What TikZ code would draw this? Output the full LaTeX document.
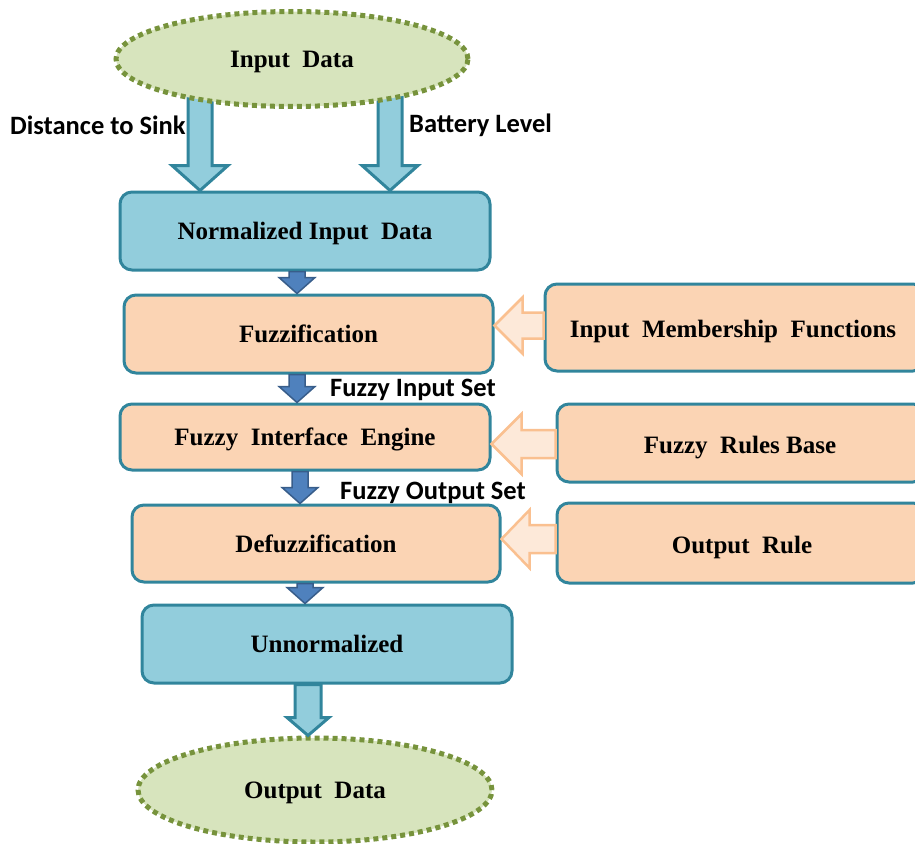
\documentclass[tikz,border=0pt]{standalone}
\usepackage{fontspec}
\setmainfont{Liberation Serif}
\newfontfamily\lblfont{Carlito}
\usetikzlibrary{shapes.geometric,calc}
\definecolor{lblue}{HTML}{92CDDC}
\definecolor{teal}{HTML}{31859C}
\definecolor{peach}{HTML}{FBD4B4}
\definecolor{ogreen}{HTML}{77933C}
\definecolor{gfill}{HTML}{D7E4BD}
\definecolor{dblue}{HTML}{4F81BD}
\definecolor{dblueb}{HTML}{385D8A}
\definecolor{pfill}{HTML}{FDE9D9}
\definecolor{pline}{HTML}{FAC090}
\newcommand\fatdown[6]{\draw[#1] let \p1=(#2), \p2=(#3) in
  (\x1-#4,\y1) -- (\x1-#4,\y2+#6) -- (\x1-#5,\y2+#6) -- (\x1,\y2) --
  (\x1+#5,\y2+#6) -- (\x1+#4,\y2+#6) -- (\x1+#4,\y1) -- cycle;}
\newcommand\fatleft[6]{\draw[#1] let \p1=(#2), \p2=(#3) in
  (\x1,\y1-#4) -- (\x2+#6,\y1-#4) -- (\x2+#6,\y1-#5) -- (\x2,\y1) --
  (\x2+#6,\y1+#5) -- (\x2+#6,\y1+#4) -- (\x1,\y1+#4) -- cycle;}
\tikzset{
  base/.style={rectangle, rounded corners=12pt, draw=teal, line width=3pt,
    font=\fontsize{25}{29}\selectfont\bfseries, text=black, inner sep=0pt, text depth=0pt},
  bluebox/.style={base, fill=lblue},
  peachbox/.style={base, fill=peach},
  dataell/.style={ellipse, draw=ogreen, fill=gfill, line width=5pt,
    dash pattern=on 5pt off 4pt, font=\fontsize{25}{29}\selectfont\bfseries,
    inner sep=0pt, text depth=0pt},
  lbl/.style={font=\lblfont\fontsize{26.5}{30}\selectfont\bfseries, text=black, inner sep=0pt},
  fatblue/.style={fill=lblue, draw=teal, line width=3pt, line join=miter},
  smallblue/.style={fill=dblue, draw=dblueb, line width=1.5pt, line join=miter},
  hollow/.style={fill=pfill, draw=pline, line width=2.5pt, line join=miter}
}
\begin{document}
\begin{tikzpicture}[x=1pt,y=-1pt]
\useasboundingbox (0,0) rectangle (915,843);
\clip (0,0) rectangle (915,843);
% main column
\node[bluebox, minimum width=370pt, minimum height=78pt] (norm) at (305,231) {Normalized Input\ \ Data};
\node[peachbox, minimum width=369pt, minimum height=78pt] (fuzz) at (308.5,334) {Fuzzification};
\node[peachbox, minimum width=370pt, minimum height=66pt] (fie) at (305,437) {Fuzzy\ \ Interface\ \ Engine};
\node[peachbox, minimum width=368pt, minimum height=77pt] (defz) at (316,543.5) {Defuzzification};
\node[bluebox, minimum width=370pt, minimum height=78pt] (unn) at (327,644) {Unnormalized};
% right column
\node[peachbox, minimum width=380pt, minimum height=87pt] (imf) at (735,327.5) {};
\node[base, draw=none] at (733,329) {Input\ \ Membership\ \ Functions};
\node[peachbox, minimum width=368pt, minimum height=78pt] (frb) at (741,443) {};
\node[base, draw=none] at (740,445) {Fuzzy\ \ Rules\ Base};
\node[peachbox, minimum width=368pt, minimum height=80pt] (orl) at (741,543) {};
\node[base, draw=none] at (742,545) {Output\ \ Rule};
% big top arrows (behind ellipse)
\coordinate (s1) at (200,95);
\coordinate (s2) at (390,95);
\fatdown{fatblue}{s1}{s1 |- norm.north}{12pt}{28pt}{25pt}
\fatdown{fatblue}{s2}{s2 |- norm.north}{12pt}{28pt}{25pt}
% ellipses
\node[dataell, minimum width=352pt, minimum height=95pt] (in) at (292,59) {Input\ \ Data};
\node[dataell, minimum width=354pt, minimum height=104pt] (out) at (315,790) {Output\ \ Data};
% small dark arrows
\fatdown{smallblue}{[xshift=-8pt]norm.south}{[xshift=-8pt]norm.south |- fuzz.north}{8pt}{18pt}{16pt}
\fatdown{smallblue}{[xshift=-11.5pt]fuzz.south}{[xshift=-11.5pt]fuzz.south |- fie.north}{8pt}{18pt}{16pt}
\fatdown{smallblue}{[xshift=-5pt]fie.south}{[xshift=-5pt]fie.south |- defz.north}{8pt}{18pt}{16pt}
\fatdown{smallblue}{[xshift=-11pt]defz.south}{[xshift=-11pt]defz.south |- unn.north}{8pt}{18pt}{16pt}
% bottom arrow
\fatdown{fatblue}{[xshift=-19pt]unn.south}{[xshift=-19pt]unn.south |- out.north}{13pt}{21pt}{18pt}
% hollow left arrows
\fatleft{hollow}{[yshift=2pt]imf.west}{fuzz.east}{13pt}{28pt}{28pt}
\fatleft{hollow}{[yshift=-1pt]frb.west}{fie.east}{14pt}{30pt}{30pt}
\fatleft{hollow}{[yshift=4pt]orl.west}{defz.east}{14pt}{29pt}{28pt}
% labels
\node[lbl, anchor=west] (l1) at (10,125) {Distance to Sink};
\node[lbl, anchor=west] (l2) at (409,125) {Battery Level};
\node[lbl, anchor=west] (l3) at (330,390) {Fuzzy Input Set};
\node[lbl, anchor=west] (l4) at (340,493) {Fuzzy Output Set};
\end{tikzpicture}
\end{document}
